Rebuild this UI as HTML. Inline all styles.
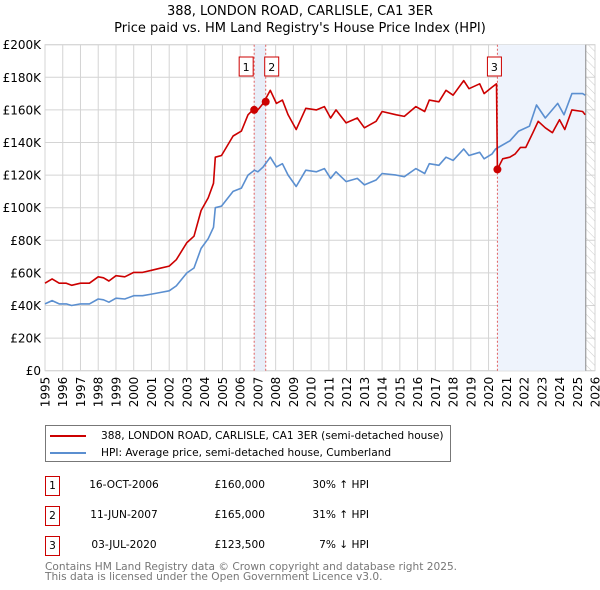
<!DOCTYPE html>
<html><head><meta charset="utf-8"><style>
body{margin:0;background:#fff;font-family:"DejaVu Sans","Liberation Sans",sans-serif;}
#wrap{position:relative;width:600px;height:590px;overflow:hidden;}
.t{position:absolute;font-size:10.6px;color:#000;white-space:nowrap;}
svg text{font-family:"DejaVu Sans","Liberation Sans",sans-serif;}
</style></head><body>
<div id="wrap">
<svg id="chart" width="600" height="420" style="position:absolute;left:0;top:0">
<text x="300" y="15" text-anchor="middle" font-size="13">388, LONDON ROAD, CARLISLE, CA1 3ER</text>
<text x="300" y="32" text-anchor="middle" font-size="13">Price paid vs. HM Land Registry's House Price Index (HPI)</text>
<defs><pattern id="hatch" width="6" height="6" patternUnits="userSpaceOnUse" patternTransform="rotate(-45)"><line x1="0" y1="0" x2="0" y2="6" stroke="#ccc" stroke-width="1"/></pattern></defs>
<g id="grid"></g><g id="bands"></g><g id="series"></g><g id="axes"></g>
</svg>
<div style="position:absolute;left:45px;top:425px;width:404px;height:35px;border:1px solid #777;">
<div style="position:absolute;left:4px;top:4px;font-size:10.6px;white-space:nowrap"><span style="display:inline-block;width:36px;height:2px;background:#cc0000;vertical-align:middle;margin-right:15px"></span>388, LONDON ROAD, CARLISLE, CA1 3ER (semi-detached house)</div>
<div style="position:absolute;left:4px;top:21px;font-size:10.6px;white-space:nowrap"><span style="display:inline-block;width:36px;height:2px;background:#5b8fd0;vertical-align:middle;margin-right:15px"></span>HPI: Average price, semi-detached house, Cumberland</div>
</div>
<div id="table"></div>
<div class="t" style="left:45px;top:562px;color:#777;line-height:10px">Contains HM Land Registry data © Crown copyright and database right 2025.<br>This data is licensed under the Open Government Licence v3.0.</div>
</div>
<script>
const hpiYears=[1995,1995.4,1995.8,1996.2,1996.5,1997,1997.5,1998,1998.3,1998.6,1999,1999.5,2000,2000.5,2001,2001.5,2002,2002.4,2003,2003.4,2003.8,2004.2,2004.5,2004.6,2004.95,2005.6,2006.07,2006.44,2006.8,2007.0,2007.3,2007.7,2008.04,2008.38,2008.7,2009.16,2009.7,2010.3,2010.75,2011.1,2011.4,2011.97,2012.6,2013.0,2013.66,2014.0,2014.8,2015.25,2015.9,2016.4,2016.66,2017.2,2017.6,2018.0,2018.6,2018.9,2019.5,2019.75,2020.2,2020.4,2021.2,2021.7,2022.3,2022.7,2023.2,2023.9,2024.25,2024.7,2025.3,2025.45];
const hpiValues=[41,43,41,41,40,41,41,44,43.5,42,44.5,44,46,46,47,48,49,52,60,63,75,81,88,100,101,110,112,120,123,122,125,131,125,127,120,113,123,122,124,118,122,116,118,114,117,121,120,119,124,121,127,126,131,129,136,132,134,130,133,136,141,147,150,163,155,164,157,170,170,169];
const paidYears=[1995,1995.4,1995.8,1996.2,1996.5,1997,1997.5,1998,1998.3,1998.6,1999,1999.5,2000,2000.5,2001,2001.5,2002,2002.4,2003,2003.4,2003.8,2004.2,2004.5,2004.6,2004.95,2005.6,2006.07,2006.44,2006.8,2007.0,2007.3,2007.7,2008.04,2008.38,2008.7,2009.16,2009.7,2010.3,2010.75,2011.1,2011.4,2011.97,2012.6,2013.0,2013.66,2014.0,2014.8,2015.25,2015.9,2016.4,2016.66,2017.2,2017.6,2018.0,2018.6,2018.9,2019.5,2019.75,2020.2,2020.45,2020.5,2020.8,2021.2,2021.5,2021.8,2022.1,2022.5,2022.8,2023.2,2023.6,2024.0,2024.3,2024.7,2025.3,2025.45];
const paidValues=[53.7,56.3,53.7,53.7,52.4,53.7,53.7,57.6,57,55,58.3,57.6,60.3,60.3,61.6,62.9,64.2,68.1,78.6,82.5,98.3,106,115,131,132,144,147,157,161,160,164,172,164,166,157,148,161,160,162,155,160,152,155,149,153,159,157,156,162,159,166,165,172,169,178,173,176,170,174,176,123.5,130,131,133,137,137,146,153,149,146,154,148,160,159,157];
const saleLabels=["1","2","3"];
const saleYears=[2006.79,2007.44,2020.5];
const saleValues=[160,165,123.5];
const saleDates=["16-OCT-2006","11-JUN-2007","03-JUL-2020"];
const salePrices=["£160,000","£165,000","£123,500"];
const saleHpi=["30% ↑ HPI","31% ↑ HPI","7% ↓ HPI"];
const yTicks=[0,20,40,60,80,100,120,140,160,180,200];
const yTickLabels=["£0","£20K","£40K","£60K","£80K","£100K","£120K","£140K","£160K","£180K","£200K"];
const xTicks=[1995,1996,1997,1998,1999,2000,2001,2002,2003,2004,2005,2006,2007,2008,2009,2010,2011,2012,2013,2014,2015,2016,2017,2018,2019,2020,2021,2022,2023,2024,2025,2026];
const dataEndYear=2025.48;

const L=45,R=595,T=44.7,B=370.7,X0=1995,X1=2026,YMAX=200;
const NS="http://www.w3.org/2000/svg";
const sx=y=>L+(y-X0)/(X1-X0)*(R-L);
const sy=v=>B-v/YMAX*(B-T);
function mk(tag,attrs,parent){const e=document.createElementNS(NS,tag);for(const k in attrs)e.setAttribute(k,attrs[k]);parent.appendChild(e);return e;}
const grid=document.getElementById('grid'),bands=document.getElementById('bands'),ser=document.getElementById('series'),axes=document.getElementById('axes');
let b=mk('rect',{x:sx(saleYears[0]),y:T,width:sx(saleYears[1])-sx(saleYears[0]),height:B-T,fill:'#e8eef8'},bands);


b=mk('rect',{x:sx(saleYears[2]),y:T,width:sx(dataEndYear)-sx(saleYears[2]),height:B-T,fill:'#eef3fc'},bands);


b=mk('rect',{x:sx(dataEndYear),y:T,width:R-sx(dataEndYear),height:B-T,fill:'url(#hatch)'},bands);


b=mk('line',{x1:sx(dataEndYear),x2:sx(dataEndYear),y1:T,y2:B,stroke:'#888','stroke-width':1},bands);


yTicks.forEach((v,i)=>{
 const g=mk('line',{x1:L,x2:R,y1:sy(v),y2:sy(v),stroke:'#d4d4d4','stroke-width':1},grid);
 
 
 const t=mk('text',{x:L-4,y:sy(v)+4.5,'text-anchor':'end','font-size':12},axes);t.textContent=yTickLabels[i];
 
 
});
xTicks.forEach(y=>{
 const g=mk('line',{x1:sx(y),x2:sx(y),y1:T,y2:B,stroke:'#d4d4d4','stroke-width':1},grid);
 
 
 const t=mk('text',{x:0,y:0,'text-anchor':'end','font-size':12,transform:`translate(${sx(y)+4.5},${B+6}) rotate(-90)`},axes);t.textContent=y;
 
 
});
mk('rect',{x:L,y:T,width:R-L,height:B-T,fill:'none',stroke:'#d4d4d4'},grid);
saleYears.forEach((y,i)=>{
 const l=mk('line',{x1:sx(y),x2:sx(y),y1:T,y2:B,stroke:'#e06060','stroke-width':1,'stroke-dasharray':'2,2'},bands);
 
 
});
function line(xs,vs,color,name){
 const d=xs.map((x,i)=>(i?'L':'M')+sx(x).toFixed(1)+','+sy(vs[i]).toFixed(1)).join('');
 const p=mk('path',{d,fill:'none',stroke:color,'stroke-width':1.6,'stroke-linejoin':'round'},ser);
 
 
}
line(hpiYears,hpiValues,'#5b8fd0','hpi-line');
line(paidYears,paidValues,'#cc0000','price-paid-line');
saleYears.forEach((y,i)=>{
 const c=mk('circle',{cx:sx(y),cy:sy(saleValues[i]),r:4,fill:'#cc0000'},ser);
 
 
});
const boxX=[sx(saleYears[0])-8,sx(saleYears[1])+6,sx(saleYears[2])-3];
saleLabels.forEach((s,i)=>{
 const g=mk('g',{},ser);
 
 
 mk('rect',{x:boxX[i]-7,y:57,width:14,height:19,fill:'#fff',stroke:'#cc0000'},g);
 const t=mk('text',{x:boxX[i],y:71,'text-anchor':'middle','font-size':11},g);t.textContent=s;
});
const tb=document.getElementById('table');
const rowY=[476,506,536];
saleLabels.forEach((s,i)=>{
 const r=document.createElement('div');
 
 
 r.innerHTML=`<div style="position:absolute;left:45px;top:${rowY[i]}px;width:13px;height:18px;border:1px solid #cc0000;font-size:10.6px;text-align:center;line-height:18px">${s}</div>
 <div class="t" style="left:60px;width:128px;text-align:center;top:${rowY[i]+3}px">${saleDates[i]}</div>
 <div class="t" style="left:180px;width:85px;text-align:right;top:${rowY[i]+3}px">${salePrices[i]}</div>
 <div class="t" style="left:280px;width:89px;text-align:right;top:${rowY[i]+3}px">${saleHpi[i]}</div>`;
 tb.appendChild(r);
});
</script>
</body></html>
